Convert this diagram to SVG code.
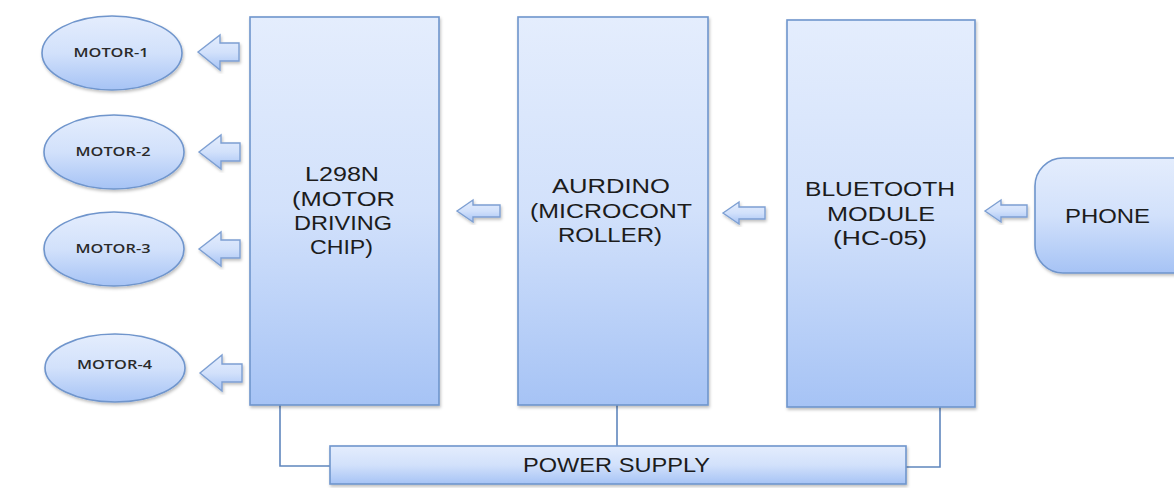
<svg xmlns="http://www.w3.org/2000/svg" width="1174" height="491" viewBox="0 0 1174 491">
<defs>
<linearGradient id="g" x1="0" y1="0" x2="0" y2="1">
<stop offset="0" stop-color="#e4edfd"/>
<stop offset="0.5" stop-color="#d2e1fb"/>
<stop offset="1" stop-color="#a6c3f5"/>
</linearGradient>
<filter id="sh" x="-10%" y="-10%" width="120%" height="120%">
<feDropShadow dx="1" dy="2" stdDeviation="1.5" flood-color="#000" flood-opacity="0.25"/>
</filter>
<style>
.box{fill:url(#g);stroke:#6f95cc;stroke-width:1.6;filter:url(#sh)}
.arr{fill:url(#g);stroke:#7d9fd2;stroke-width:1.4;filter:url(#sh)}
.ln{fill:none;stroke:#5f86bd;stroke-width:1.6}
.t{font-family:"Liberation Sans","Open Sans",sans-serif;font-size:19.5px;fill:#1c1c1c;text-anchor:middle}
.m{font-family:"Open Sans","Liberation Sans",sans-serif;font-size:12.5px;font-weight:600;fill:#2a2a2a;text-anchor:middle}
</style>
</defs>
<rect width="1174" height="491" fill="#fff"/>
<g id="connectors">
<polyline class="ln" points="280,404 280,466 330,466"/>
<line class="ln" x1="617" y1="404" x2="617" y2="446"/>
<polyline class="ln" points="940,407 940,467 906,467"/>
<path class="arr" d="M198,52 L220,35 L220,43 L239,43 L239,61 L220,61 L220,70 Z"/>
<path class="arr" d="M199,152 L221,135 L221,143 L240,143 L240,161 L221,161 L221,169 Z"/>
<path class="arr" d="M199,249 L221,232 L221,240 L240,240 L240,258 L221,258 L221,266 Z"/>
<path class="arr" d="M200,373 L222,355 L222,364 L242,364 L242,382 L222,382 L222,391 Z"/>
<path class="arr" d="M457,211 L473,200 L473,205 L500,205 L500,217 L473,217 L473,222 Z"/>
<path class="arr" d="M723,213 L739,202 L739,207 L765,207 L765,219 L739,219 L739,224 Z"/>
<path class="arr" d="M985,211 L1001,200 L1001,205 L1027,205 L1027,217 L1001,217 L1001,222 Z"/>
</g>
<g id="motor1"><ellipse class="box" cx="112" cy="53" rx="70" ry="37"/><text class="m" x="111" y="57" textLength="75" lengthAdjust="spacingAndGlyphs">MOTOR-1</text></g>
<g id="motor2"><ellipse class="box" cx="114" cy="152" rx="70" ry="37"/><text class="m" x="113" y="156" textLength="75" lengthAdjust="spacingAndGlyphs">MOTOR-2</text></g>
<g id="motor3"><ellipse class="box" cx="114" cy="249" rx="70" ry="37"/><text class="m" x="113" y="253" textLength="75" lengthAdjust="spacingAndGlyphs">MOTOR-3</text></g>
<g id="motor4"><ellipse class="box" cx="115" cy="368" rx="70" ry="34"/><text class="m" x="114.5" y="369" textLength="75" lengthAdjust="spacingAndGlyphs">MOTOR-4</text></g>
<g id="l298n"><rect class="box" x="250" y="17" width="189" height="388"/>
<text class="t" x="342" y="181" textLength="74" lengthAdjust="spacingAndGlyphs">L298N</text>
<text class="t" x="343.5" y="205.5" textLength="103" lengthAdjust="spacingAndGlyphs">(MOTOR</text>
<text class="t" x="343" y="230" textLength="98" lengthAdjust="spacingAndGlyphs">DRIVING</text>
<text class="t" x="341.5" y="254" textLength="63" lengthAdjust="spacingAndGlyphs">CHIP)</text></g>
<g id="aurdino"><rect class="box" x="518" y="17" width="190" height="388"/>
<text class="t" x="611" y="193" textLength="118" lengthAdjust="spacingAndGlyphs">AURDINO</text>
<text class="t" x="611" y="218" textLength="162" lengthAdjust="spacingAndGlyphs">(MICROCONT</text>
<text class="t" x="610" y="242" textLength="104" lengthAdjust="spacingAndGlyphs">ROLLER)</text></g>
<g id="bluetooth"><rect class="box" x="787" y="20" width="188" height="387"/>
<text class="t" x="880" y="196" textLength="150" lengthAdjust="spacingAndGlyphs">BLUETOOTH</text>
<text class="t" x="881" y="220.5" textLength="108" lengthAdjust="spacingAndGlyphs">MODULE</text>
<text class="t" x="880" y="245" textLength="94" lengthAdjust="spacingAndGlyphs">(HC-05)</text></g>
<g id="phone"><rect class="box" x="1035" y="158" width="170" height="115" rx="28"/>
<text class="t" x="1107.5" y="223" textLength="85" lengthAdjust="spacingAndGlyphs">PHONE</text></g>
<g id="power"><rect class="box" x="330" y="446" width="576" height="38"/>
<text class="t" x="616.5" y="472" textLength="187" lengthAdjust="spacingAndGlyphs" style="font-size:21px">POWER SUPPLY</text></g>
</svg>
